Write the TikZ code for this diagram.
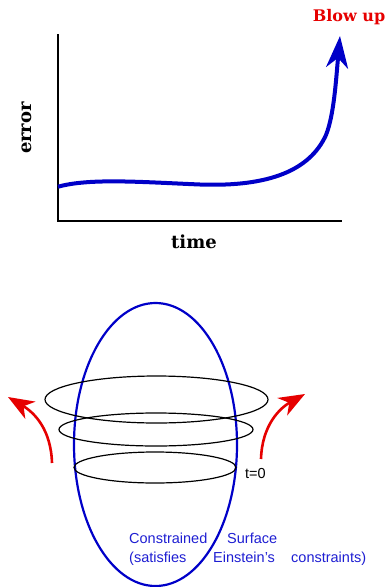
\documentclass[tikz,border=0pt]{standalone}
\usepackage{fontspec}
\setmainfont{DejaVu Serif}
\setsansfont{Liberation Sans}
\usetikzlibrary{arrows.meta}
\definecolor{errblue}{RGB}{0,0,200}
\definecolor{blowred}{RGB}{230,0,0}
\definecolor{surfblue}{RGB}{30,30,210}
\tikzset{
  axislbl/.style={font=\fontsize{18}{20}\selectfont\bfseries},
  surflbl/.style={font=\sffamily\fontsize{14.5}{16}\selectfont, text=surfblue, inner sep=0pt, anchor=base west},
  slice/.style={black, line width=1.2pt},
  flow/.style={->, blowred, line width=2.6pt, >={Stealth[length=26pt, width=20pt, inset=8pt]}}
}
\begin{document}
\begin{tikzpicture}[>=Stealth, x=1pt, y=-1pt]
                \useasboundingbox (0,0) rectangle (389,587);
                % Trục error - time
                \coordinate (O) at (58,221);
                \draw[line width=2.2pt] (58,34) -- (O) -- (342,221);
                \node[axislbl, rotate=90] (err) at (27,128) {error};
                \node[axislbl] (time) at (194,242) {time};
                
                % Đường sai số
                \coordinate (E0) at (58,186.7);
                \coordinate (E1) at (200,184.5);
                \coordinate (E2) at (326,135);
                \coordinate (Etip) at (340,36);
                \draw[->, errblue, line width=4pt, >={Stealth[length=32pt, width=22pt, inset=10pt]}]
                  (E0) .. controls (90,178) and (140,182) .. (E1)
                  .. controls (270,187) and (310,170) .. (E2)
                  .. controls (334,115) and (336,80) .. (Etip);
                \node[axislbl, font=\fontsize{16}{18}\selectfont\bfseries, text=blowred] (blow) at (349,17) {Blow up};
                
                % Mặt ràng buộc
                \draw[errblue, line width=2.2pt] (155.5,444.5) ellipse [x radius=81.5, y radius=141.5];
                
                % Các lát cắt thời gian
                \draw[slice] (156.5,399.5) ellipse [x radius=111.5, y radius=23.5];
                \draw[slice] (156,429.5) ellipse [x radius=97, y radius=16.5];
                \draw[slice] (155,467.5) ellipse [x radius=81, y radius=15.5];
                \node[surflbl, text=black] (t0) at (245,478) {t=0};
                
                % Mũi tên đỏ
                \coordinate (L0) at (52,463);
                \coordinate (L1) at (8,397);
                \coordinate (R0) at (261,459);
                \coordinate (R1) at (305,394);
                \draw[flow] (L0) .. controls (51,430) and (35,413) .. (L1);
                \draw[flow] (R0) .. controls (262,425) and (280,408) .. (R1);
                
                % Nhãn mặt ràng buộc
                \node[surflbl] (cons) at (129,543) {Constrained};
                \node[surflbl] (surf) at (227,543) {Surface};
                \node[surflbl] (sat) at (129,562) {(satisfies};
                \node[surflbl] (ein) at (213,562) {Einstein's};
                \node[surflbl] (cstr) at (291,562) {constraints)};
            \end{tikzpicture}
\end{document}
